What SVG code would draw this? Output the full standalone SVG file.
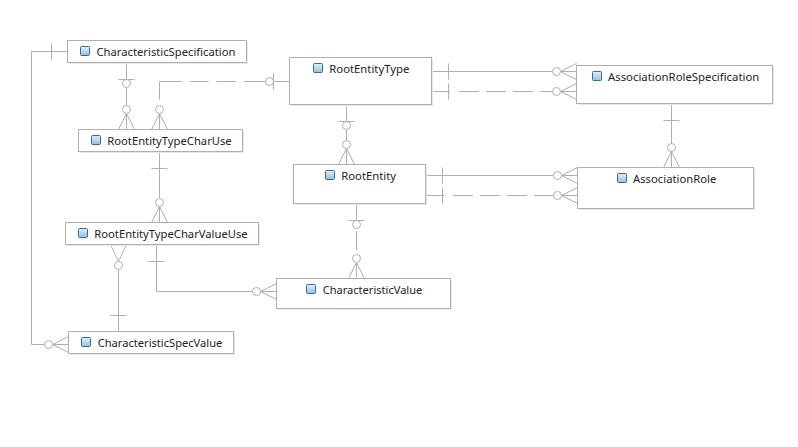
<svg xmlns="http://www.w3.org/2000/svg" width="798" height="447" viewBox="0 0 798 447">
<style>
.box{fill:#fff;stroke:#b0b0b0;stroke-width:1}
.sh{fill:#e8e8e8}
.ic{fill:url(#ig);stroke:#2f6da5;stroke-width:1}
text{font-family:"Noto Sans","DejaVu Sans",sans-serif;font-size:11.5px;fill:#222}
#connectors path{fill:none;stroke:#b0b0b0;stroke-width:1}
#connectors circle{fill:#fff;stroke:#b0b0b0;stroke-width:1}
</style>
<defs>
<linearGradient id="ig" x1="0" y1="0" x2="0" y2="1"><stop offset="0" stop-color="#e6eef6"/><stop offset="1" stop-color="#9dbcd8"/></linearGradient>
</defs>
<rect width="798" height="447" fill="#fff"/>
<g id="connectors">
<path d="M67.5 51.5H31.5V344.5H44.5M51.5 43.5V59.5M52.5 344.5L68.5 336.5M52.5 344.5H68.5M52.5 344.5L68.5 352.5"/>
<circle cx="48.5" cy="344.5" r="4"/>
<path d="M126.5 62.5V79.5M118.5 79.5H134.5M126.5 87.5V105.5M126.5 113.5V129.5M126.5 113.5L118.5 129.5M126.5 113.5L134.5 129.5"/>
<circle cx="126.5" cy="83.5" r="4"/><circle cx="126.5" cy="109.5" r="4"/>
<path d="M159.5 99.5V81.5H182M190 81.5H208.5M216.5 81.5H236M244 81.5H265.5M273.5 81.5H289.5M273.5 73.5V89.5M159.5 113.5V129.5M159.5 113.5L151.5 129.5M159.5 113.5L167.5 129.5"/>
<circle cx="269.5" cy="81.5" r="4"/><circle cx="159.5" cy="109.5" r="4"/>
<path d="M159.5 151.5V198.5M151.5 168.5H167.5M159.5 206.5V222.5M159.5 206.5L151.5 222.5M159.5 206.5L167.5 222.5"/>
<circle cx="159.5" cy="202.5" r="4"/>
<path d="M118.5 261.5L110.5 244.5M118.5 261.5L126.5 244.5M118.5 269.5V331.5M110.5 315.5H126.5"/>
<circle cx="118.5" cy="265.5" r="4"/>
<path d="M156.5 244.5V291.5H252.5M148.5 261.5H164.5M260.5 291.5L276.5 283.5M260.5 291.5H276.5M260.5 291.5L276.5 299.5"/>
<circle cx="256.5" cy="291.5" r="4"/>
<path d="M346.5 104.5V121.5M338.5 121.5H354.5M346.5 129.5V140.5M346.5 148.5V164.5M346.5 148.5L338.5 164.5M346.5 148.5L354.5 164.5"/>
<circle cx="346.5" cy="125.5" r="4"/><circle cx="346.5" cy="144.5" r="4"/>
<path d="M356.5 203.5V220.5M348.5 220.5H364.5M356.5 231V250M356.5 262.5V278.5M356.5 262.5L348.5 278.5M356.5 262.5L364.5 278.5"/>
<circle cx="356.5" cy="224.5" r="4"/><circle cx="356.5" cy="258.5" r="4"/>
<path d="M431.5 71.5H552.5M448.5 63.5V79.5M560.5 71.5L576.5 63.5M560.5 71.5H576.5M560.5 71.5L576.5 79.5"/>
<circle cx="556.5" cy="71.5" r="4"/>
<path d="M431.5 91.5H450M459 91.5H479M486 91.5H506M513 91.5H533M540 91.5H552.5M448.5 83.5V99.5M560.5 91.5L576.5 83.5M560.5 91.5H576.5M560.5 91.5L576.5 99.5"/>
<circle cx="556.5" cy="91.5" r="4"/>
<path d="M425.5 175.5H553.5M442.5 167.5V183.5M561.5 175.5L577.5 167.5M561.5 175.5H577.5M561.5 175.5L577.5 183.5"/>
<circle cx="557.5" cy="175.5" r="4"/>
<path d="M425.5 195.5H444M453 195.5H473M480 195.5H500M507 195.5H527M534 195.5H553.5M442.5 187.5V203.5M561.5 195.5L577.5 187.5M561.5 195.5H577.5M561.5 195.5L577.5 203.5"/>
<circle cx="557.5" cy="195.5" r="4"/>
<path d="M671.5 103.5V143.5M663.5 120.5H679.5M671.5 151.5V167.5M671.5 151.5L663.5 167.5M671.5 151.5L679.5 167.5"/>
<circle cx="671.5" cy="147.5" r="4"/>
</g>
<g id="CharacteristicSpecification"><rect class="sh" x="69" y="42" width="179" height="22"/><rect class="box" x="67.5" y="40.5" width="179" height="22"/><rect class="ic" x="80.5" y="46.5" width="9" height="9" rx="1"/><text x="96.5" y="56" textLength="139" lengthAdjust="spacingAndGlyphs">CharacteristicSpecification</text></g>
<g id="RootEntityTypeCharUse"><rect class="sh" x="80" y="131" width="164" height="22"/><rect class="box" x="78.5" y="129.5" width="164" height="22"/><rect class="ic" x="91.5" y="135.5" width="9" height="9" rx="1"/><text x="107.3" y="145" textLength="124.4" lengthAdjust="spacingAndGlyphs">RootEntityTypeCharUse</text></g>
<g id="RootEntityTypeCharValueUse"><rect class="sh" x="67" y="224" width="193" height="22"/><rect class="box" x="65.5" y="222.5" width="193" height="22"/><rect class="ic" x="78.5" y="228.5" width="9" height="9" rx="1"/><text x="94.3" y="238" textLength="153.4" lengthAdjust="spacingAndGlyphs">RootEntityTypeCharValueUse</text></g>
<g id="CharacteristicSpecValue"><rect class="sh" x="70" y="333" width="165" height="22"/><rect class="box" x="68.5" y="331.5" width="165" height="22"/><rect class="ic" x="81.5" y="337.5" width="9" height="9" rx="1"/><text x="97.7" y="347" textLength="124.6" lengthAdjust="spacingAndGlyphs">CharacteristicSpecValue</text></g>
<g id="RootEntityType"><rect class="sh" x="291" y="59" width="142" height="47"/><rect class="box" x="289.5" y="57.5" width="142" height="47"/><rect class="ic" x="313.5" y="63.5" width="9" height="9" rx="1"/><text x="329.3" y="73" textLength="80" lengthAdjust="spacingAndGlyphs">RootEntityType</text></g>
<g id="RootEntity"><rect class="sh" x="295" y="166" width="132" height="39"/><rect class="box" x="293.5" y="164.5" width="132" height="39"/><rect class="ic" x="325.5" y="170.5" width="9" height="9" rx="1"/><text x="341.3" y="180" textLength="54.7" lengthAdjust="spacingAndGlyphs">RootEntity</text></g>
<g id="AssociationRoleSpecification"><rect class="sh" x="578" y="67" width="196" height="38"/><rect class="box" x="576.5" y="65.5" width="196" height="38"/><rect class="ic" x="592.5" y="71.5" width="9" height="9" rx="1"/><text x="608" y="81" textLength="151.3" lengthAdjust="spacingAndGlyphs">AssociationRoleSpecification</text></g>
<g id="AssociationRole"><rect class="sh" x="579" y="169" width="176" height="41"/><rect class="box" x="577.5" y="167.5" width="176" height="41"/><rect class="ic" x="617.5" y="173.5" width="9" height="9" rx="1"/><text x="633" y="183" textLength="83.3" lengthAdjust="spacingAndGlyphs">AssociationRole</text></g>
<g id="CharacteristicValue"><rect class="sh" x="278" y="280" width="174" height="30"/><rect class="box" x="276.5" y="278.5" width="174" height="30"/><rect class="ic" x="306.5" y="284.5" width="9" height="9" rx="1"/><text x="322.7" y="294" textLength="99.6" lengthAdjust="spacingAndGlyphs">CharacteristicValue</text></g>
</svg>
